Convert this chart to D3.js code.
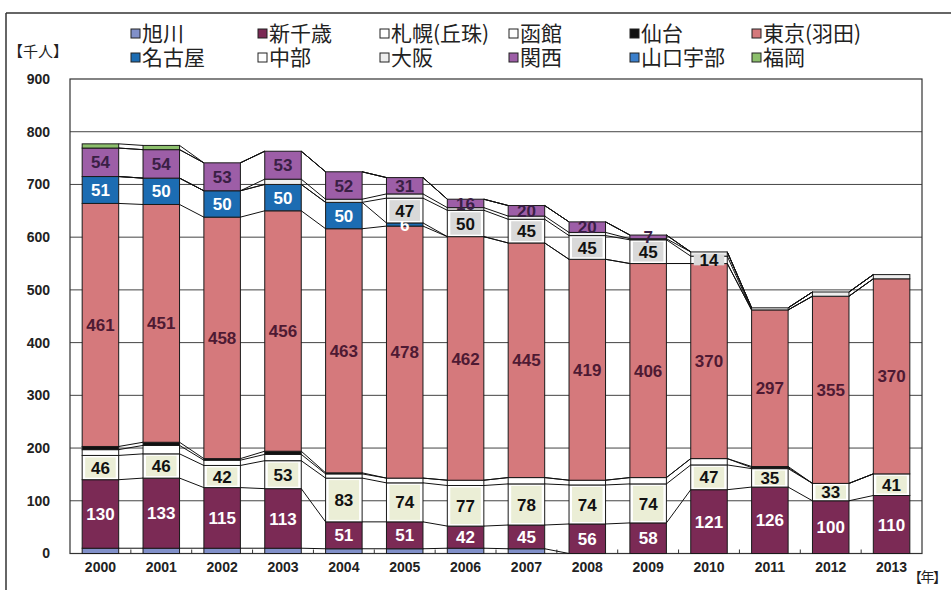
<!DOCTYPE html>
<html>
<head>
<meta charset="utf-8">
<script src="https://cdn.jsdelivr.net/npm/d3@7"></script>
<style>
  body { margin: 0; background: #fff; }
  svg { display: block; }
</style>
</head>
<body>
<svg id="chart" width="951" height="590"></svg>
<script>
// ---- data (thousand passengers per year, by route) ----
const years = ["2000","2001","2002","2003","2004","2005","2006","2007","2008","2009","2010","2011","2012","2013"];
const seriesNames = ["旭川","新千歳","札幌(丘珠)","函館","仙台","東京(羽田)","名古屋","中部","大阪","関西","山口宇部","福岡"];

const asahikawa = [10,10,10,10,9,9,10,9,0,0,0,0,0,0];
const shinChitose = [130,133,115,113,51,51,42,45,56,58,121,126,100,110];
const sapporoOkadama = [46,46,42,53,83,74,77,78,74,74,47,35,33,41];
const hakodate = [11,16,10,12,8,9,10,12,9,12,12,2,0,0];
const sendai = [6,6,3,6,2,0,0,0,0,0,0,2,0,0];
const tokyoHaneda = [461,451,458,456,463,478,462,445,419,406,370,297,355,370];
const nagoya = [51,50,50,50,50,6,0,0,0,0,0,0,0,0];
const chubu = [0,0,0,0,0,47,50,45,45,45,14,0,0,0];
const osaka = [0,0,0,10,6,8,5,6,6,2,8,4,8,8];
const kansai = [54,54,53,53,52,31,16,20,20,7,0,0,0,0];
const yamaguchiUbe = [0,0,0,0,0,0,0,0,0,0,0,0,0,0];
const fukuoka = [8,8,0,0,0,0,0,0,0,0,0,0,0,0];

const yTicks = [0,100,200,300,400,500,600,700,800,900];

const seriesValues = [asahikawa, shinChitose, sapporoOkadama, hakodate, sendai, tokyoHaneda,
                      nagoya, chubu, osaka, kansai, yamaguchiUbe, fukuoka];

// ---- styling ----
const fills = ["#8190c9","#7b2a55","#ffffff","#ffffff","#111111","#d5797c",
               "#1c6cb2","#ffffff","#eeeeee","#9d5ea7","#3b7fcb","#8cbf6c"];
// data labels: text colour and optional label-box fill, per series
const labelStyle = {
  "新千歳":     {color: "#ffffff"},
  "札幌(丘珠)": {color: "#111111", box: "#ebeed6"},
  "東京(羽田)": {color: "#4e1a33"},
  "名古屋":     {color: "#ffffff"},
  "中部":       {color: "#111111", box: "#d9d9d9"},
  "関西":       {color: "#3a1f45"}
};

// table for the stack layout
const table = years.map((yr, i) => {
  const row = {year: yr};
  seriesNames.forEach((s, k) => row[s] = seriesValues[k][i]);
  return row;
});

const svg = d3.select("#chart");
const plotLeft = 70, plotRight = 922, plotTop = 79, plotBottom = 553.5;

const x = d3.scaleBand().domain(years).range([plotLeft, plotRight]).paddingInner(0.4).paddingOuter(0.2);
const y = d3.scaleLinear().domain([0, 900]).range([plotBottom, plotTop]);
const bw = x.bandwidth();

const stacked = d3.stack().keys(seriesNames)(table);

// outer frame of the figure
svg.append("line").attr("x1", 6).attr("x2", 951).attr("y1", 13).attr("y2", 13)
  .attr("stroke", "#333").attr("stroke-width", 1.5);
svg.append("line").attr("x1", 6).attr("x2", 6).attr("y1", 13).attr("y2", 590)
  .attr("stroke", "#333").attr("stroke-width", 1.5);

// title (mostly above the top edge)
svg.append("text").attr("x", 740).attr("y", -2).attr("text-anchor", "end")
  .attr("font-family", "'Noto Sans CJK JP'").attr("font-weight", "bold").attr("font-size", 20)
  .attr("fill", "#222").text("空港の路線別旅客数の推移");

// gridlines
svg.append("g").selectAll("line").data(yTicks.filter(t => t > 0 && t < 900)).join("line")
  .attr("x1", plotLeft).attr("x2", plotRight)
  .attr("y1", d => y(d)).attr("y2", d => y(d))
  .attr("stroke", "#444").attr("stroke-width", 1);

// plot frame
svg.append("rect").attr("x", plotLeft).attr("y", y(900)).attr("width", plotRight - plotLeft)
  .attr("height", y(0) - y(900)).attr("fill", "none").attr("stroke", "#333").attr("stroke-width", 1.2);

// y axis labels
const yAxis = d3.axisLeft(y).tickValues(yTicks).tickSize(0).tickPadding(20);
const gy = svg.append("g").attr("transform", `translate(${plotLeft},0)`).call(yAxis);
gy.select(".domain").remove();
gy.selectAll("text").attr("font-family", "'Liberation Sans', Arial, sans-serif")
  .attr("font-weight", "bold").attr("font-size", 14).attr("fill", "#222");

// x axis labels
const xAxis = d3.axisBottom(x).tickSize(0).tickPadding(9);
const gx = svg.append("g").attr("transform", `translate(0,${plotBottom})`).call(xAxis);
gx.select(".domain").remove();
gx.selectAll("text").attr("font-family", "'Liberation Sans', Arial, sans-serif")
  .attr("font-weight", "bold").attr("font-size", 14).attr("fill", "#222");

// inward ticks at category boundaries
svg.append("g").selectAll("line").data(d3.range(1, years.length)).join("line")
  .attr("x1", i => x(years[i]) - x.step() * x.paddingInner() / 2)
  .attr("x2", i => x(years[i]) - x.step() * x.paddingInner() / 2)
  .attr("y1", plotBottom).attr("y2", plotBottom - 4)
  .attr("stroke", "#333").attr("stroke-width", 1);

// stacked segments
const gBars = svg.append("g");
stacked.forEach((layer, k) => {
  gBars.append("g").selectAll("rect").data(layer.filter(d => d[1] - d[0] > 0)).join("rect")
    .attr("x", d => x(d.data.year))
    .attr("y", d => y(d[1]))
    .attr("width", bw)
    .attr("height", d => y(d[0]) - y(d[1]))
    .attr("fill", fills[k])
    .attr("stroke", "#1a1a1a").attr("stroke-width", 1);
});

// series lines joining each boundary between neighbouring bars
const gLines = svg.append("g");
stacked.forEach(layer => {
  for (let i = 0; i < years.length - 1; i++) {
    const a = layer[i], b = layer[i + 1];
    if (a[1] === 0 && b[1] === 0) continue;
    gLines.append("line")
      .attr("x1", x(years[i]) + bw).attr("y1", y(a[1]))
      .attr("x2", x(years[i + 1])).attr("y2", y(b[1]))
      .attr("stroke", "#111").attr("stroke-width", 1);
  }
});

// data labels
const gLabels = svg.append("g");
stacked.forEach(layer => {
  const st = labelStyle[layer.key];
  if (!st) return;
  layer.forEach(d => {
    const v = d[1] - d[0];
    if (v <= 0) return;
    const cx = x(d.data.year) + bw / 2;
    const cy = (y(d[0]) + y(d[1])) / 2;
    if (st.box) {
      const h = Math.max(y(d[0]) - y(d[1]) - 4, 11);
      gLabels.append("rect").attr("x", x(d.data.year) + 3).attr("y", cy - h / 2)
        .attr("width", bw - 6).attr("height", h).attr("fill", st.box);
    }
    gLabels.append("text").attr("x", cx).attr("y", cy).attr("dy", "0.36em")
      .attr("text-anchor", "middle")
      .attr("font-family", "'Liberation Sans', Arial, sans-serif")
      .attr("font-weight", "bold").attr("font-size", 17)
      .attr("fill", st.color).text(v);
  });
});

// legend, two rows of six
const legendCols = [135, 262, 384, 513, 634, 756];
const legendRows = [33, 57];
const gLeg = svg.append("g");
seriesNames.forEach((s, k) => {
  const lx = legendCols[k % 6], ly = legendRows[Math.floor(k / 6)];
  gLeg.append("rect").attr("x", lx - 4).attr("y", ly - 4).attr("width", 9).attr("height", 9)
    .attr("fill", fills[k]).attr("stroke", "#222").attr("stroke-width", 1);
  gLeg.append("text").attr("x", lx + 7).attr("y", ly).attr("dy", "0.36em")
    .attr("font-family", "'Noto Sans CJK JP', sans-serif").attr("font-size", 21)
    .attr("fill", "#222").text(s);
});

// unit captions
svg.append("text").attr("x", 8).attr("y", 52).attr("dy", "0.36em")
  .attr("font-family", "'Noto Sans CJK JP', sans-serif").attr("font-size", 15)
  .attr("fill", "#222").text("【千人】");
svg.append("text").attr("x", 908).attr("y", 577).attr("dy", "0.36em")
  .attr("font-family", "'Noto Sans CJK JP', sans-serif").attr("font-size", 14)
  .attr("letter-spacing", -1.5)
  .attr("fill", "#222").text("【年】");
</script>
</body>
</html>
